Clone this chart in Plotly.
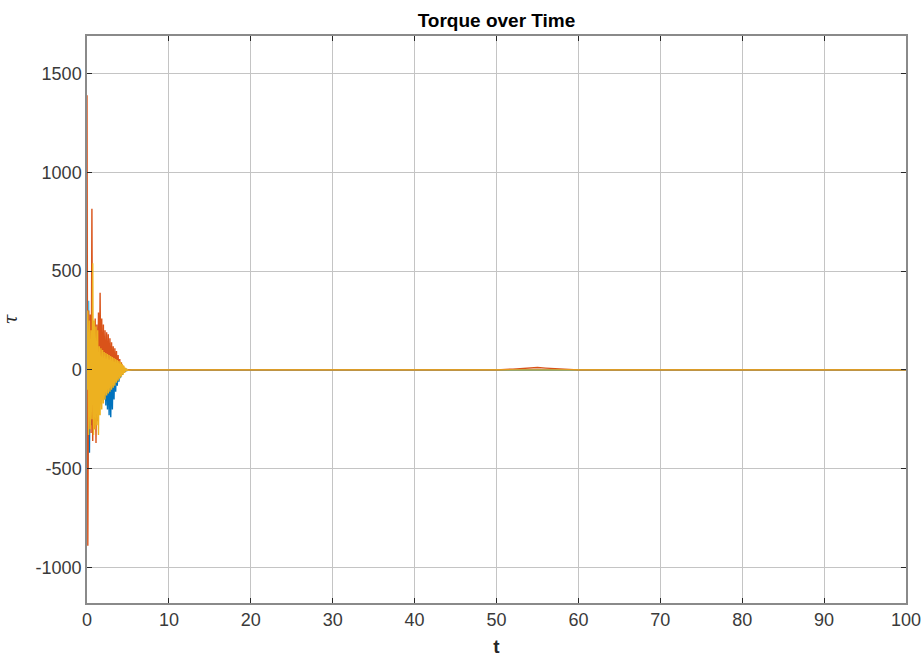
import numpy as np
import plotly.graph_objects as go

# Transient phase sampled every 0.1 s from t = 0 to t = 5
t_fast = np.round(np.arange(0, 5.01, 0.1), 1).tolist()
# Settled phase
t_tail = [5.5, 10, 20, 30, 40, 50, 52, 54, 55, 56, 58, 60, 70, 80, 90, 100]

tau_blue = [250, -500, 200, -420, 150, -280, 180, -220, 120, -200,
            100, -180, 90, -160, 110, -150, 80, -170, 120, -130,
            90, -150, 100, -180, 70, -200, 60, -230, 50, -240,
            40, -200, 60, -150, 50, -110, 40, -80, 30, -60,
            25, -40, 20, -25, 14, -15, 8, -8, 4, -3, 1]
tau_red = [1390, -890, 300, -250, 280, -320, 815, -360, 220, -300,
           260, -370, 230, -260, 290, -150, 390, -140, 260, -150,
           230, -130, 200, -120, 190, -100, 180, -90, 160, -80,
           140, -70, 120, -60, 110, -50, 95, -40, 75, -35,
           55, -28, 38, -20, 22, -12, 10, -6, 4, -2, 1]
tau_yellow = [-100, 300, -330, 250, -300, 200, -250, 540, -330, 250,
              -300, 220, -280, 200, -330, 120, -230, 110, -200, 100,
              -170, 90, -150, 85, -130, 80, -120, 75, -110, 70,
              -100, 65, -90, 60, -80, 55, -65, 50, -55, 45,
              -45, 40, -35, 30, -25, 20, -15, 10, -6, 4, -2]
tau_green = [-300, 150, -200, 100, -150, 80, -120, 60, -100, 50,
             -90, 40, -80, 30, -60, 30, -50, 25, -40, 20,
             -35, 18, -30, 15, -25, 12, -20, 10, -16, 8,
             -12, 6, -10, 5, -8, 4, -6, 3, -4, 2,
             -2, 1, -1, 1, 0, 0, 0, 0, 0, 0, 0]
tau_cyan = [500, -100, 350, -150, 200, -100, 150, -80, 120, -60,
            100, -50, 80, -40, 60, -30, 50, -25, 40, -20,
            35, -18, 30, -15, 25, -12, 20, -10, 16, -8,
            12, -6, 10, -5, 8, -4, 6, -3, 4, -2,
            2, -1, 1, -1, 0, 0, 0, 0, 0, 0, 0]

tail_zero = [0] * len(t_tail)
tail_red = [0, 0, 0, 0, 0, 0, 4, 9, 12, 9, 4, 0, 0, 0, 0, 0]

x_ticks = list(range(0, 101, 10))
y_ticks = [-1000, -500, 0, 500, 1000, 1500]
y_tick_text = ["-1000", "-500", "0", "500", "1000", "1500"]

series = [
    ("tau_5", tau_green, tail_zero, "#77AC30"),
    ("tau_6", tau_cyan, tail_zero, "#4DBEEE"),
    ("tau_1", tau_blue, tail_zero, "#0072BD"),
    ("tau_2", tau_red, tail_red, "#D95319"),
    ("tau_3", tau_yellow, tail_zero, "#EDB120"),
]

fig = go.Figure()
for name, head, tail, color in series:
    fig.add_trace(go.Scatter(
        x=t_fast + t_tail, y=head + tail, mode="lines", name=name,
        line=dict(color=color, width=1.4), showlegend=False,
    ))

font = "Liberation Sans, Arial, Helvetica, sans-serif"
axis_common = dict(
    showgrid=True, gridcolor="#c4c4c4", gridwidth=1,
    showline=True, linecolor="#8a8a8a", linewidth=1.5, mirror="ticks",
    ticks="inside", ticklen=5, tickcolor="#262626",
    zeroline=False, automargin=False,
    tickfont=dict(family=font, size=18, color="#3a3a3a"),
)

fig.update_layout(
    width=924, height=657,
    margin=dict(l=87, r=18, t=36, b=54),
    paper_bgcolor="white", plot_bgcolor="white",
    title=dict(text="<b>Torque over Time</b>", x=(87 + 906) / 2 / 924,
               xanchor="center", y=1 - 20 / 657, yanchor="middle",
               font=dict(family=font, size=19, color="#000000")),
    xaxis=dict(range=[0, 100], tickvals=x_ticks,
               title=dict(text="<b>t</b>", standoff=14,
                          font=dict(family=font, size=19, color="#262626")),
               **axis_common),
    yaxis=dict(range=[-1180, 1690], tickvals=y_ticks, ticktext=y_tick_text,
               title=dict(text="<i>τ</i>", standoff=24,
                          font=dict(family="DejaVu Serif, serif", size=18, color="#262626")),
               **axis_common),
)

fig.write_html("out.html")
